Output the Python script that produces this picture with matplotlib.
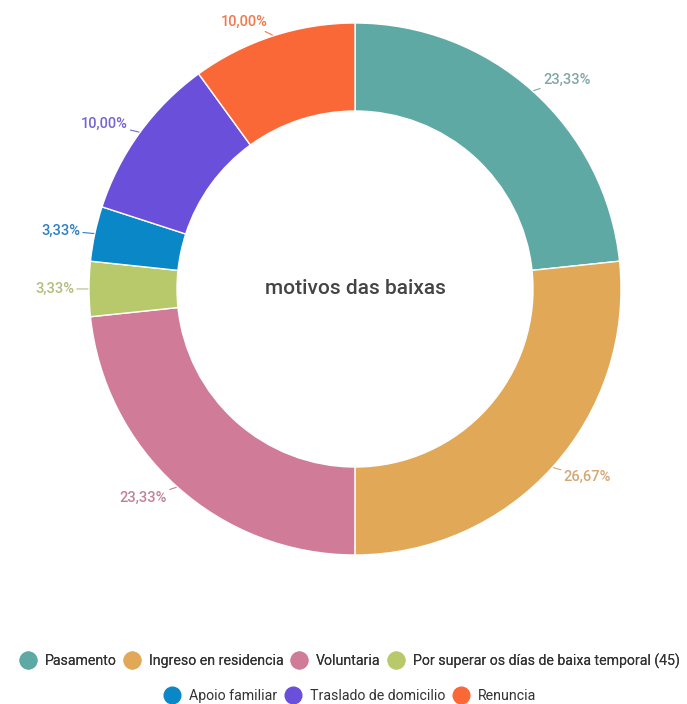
import numpy as np
import matplotlib.pyplot as plt
from matplotlib.lines import Line2D

plt.rcParams['font.family'] = ['Roboto', 'DejaVu Sans']

# motivos das baixas (%)
motivos = ['Pasamento', 'Ingreso en residencia', 'Voluntaria',
           'Por superar os días de baixa temporal (45)', 'Apoio familiar',
           'Traslado de domicilio', 'Renuncia']
porcentaxes = [23.33, 26.67, 23.33, 3.33, 3.33, 10.00, 10.00]
cores = ['#5ea9a4', '#e0a857', '#d07c99', '#b7c96b', '#0a87c6', '#6a4fdb', '#fb6838']
cores_etiqueta = ['#7fa8a5', '#d3a874', '#c0829b', '#b3bd7f', '#2f80c2', '#7865d2', '#ef7a4f']

W, H = 687, 704
fig = plt.figure(figsize=(W / 100, H / 100), dpi=100)
ax = fig.add_axes([0, 0, 1, 1])

cx, cy = 355, H - 289
r_ext, r_int = 266, 178

wedges, _ = ax.pie(porcentaxes, colors=cores, startangle=90, counterclock=False,
                   center=(cx, cy), radius=r_ext,
                   wedgeprops=dict(width=r_ext - r_int, edgecolor='white', linewidth=1))

ax.set_xlim(0, W)
ax.set_ylim(0, H)
ax.set_aspect('equal')
ax.axis('off')

# etiquetas con liña guía
for w, v, col in zip(wedges, porcentaxes, cores_etiqueta):
    ang = np.deg2rad((w.theta1 + w.theta2) / 2)
    ca, sa = np.cos(ang), np.sin(ang)
    p0 = (cx + (r_ext + 1) * ca, cy + (r_ext + 1) * sa)
    p1 = (cx + 281 * ca, cy + 281 * sa)
    ha = 'left' if ca > 0.05 else 'right'
    ax.annotate(f'{v:.2f}%'.replace('.', ','), xy=p0, xytext=p1,
                ha=ha, va='center', fontsize=10.5, color=col, fontweight='medium',
                arrowprops=dict(arrowstyle='-', color=col, lw=0.8,
                                shrinkA=0, shrinkB=0))

ax.text(cx, cy, 'motivos das baixas', ha='center', va='center',
        fontsize=15, fontweight='medium', color='#444444')

handles = [Line2D([], [], linestyle='none', marker='o', markersize=12,
                  markerfacecolor=c, markeredgecolor=c) for c in cores]

leg_opts = dict(loc='center', frameon=False, fontsize=10.2, handlelength=1.0,
                handletextpad=0.7, columnspacing=0.6, borderpad=0)
leg1 = fig.legend(handles[:4], motivos[:4], bbox_to_anchor=(0.51, 1 - 661 / H),
                  ncol=4, **leg_opts)
leg2 = fig.legend(handles[4:], motivos[4:], bbox_to_anchor=(0.51, 1 - 696 / H),
                  ncol=3, **leg_opts)
fig.add_artist(leg1)
for leg in (leg1, leg2):
    for t in leg.get_texts():
        t.set_color('#333333')

fig.savefig('out.png', dpi=100, facecolor='white')
